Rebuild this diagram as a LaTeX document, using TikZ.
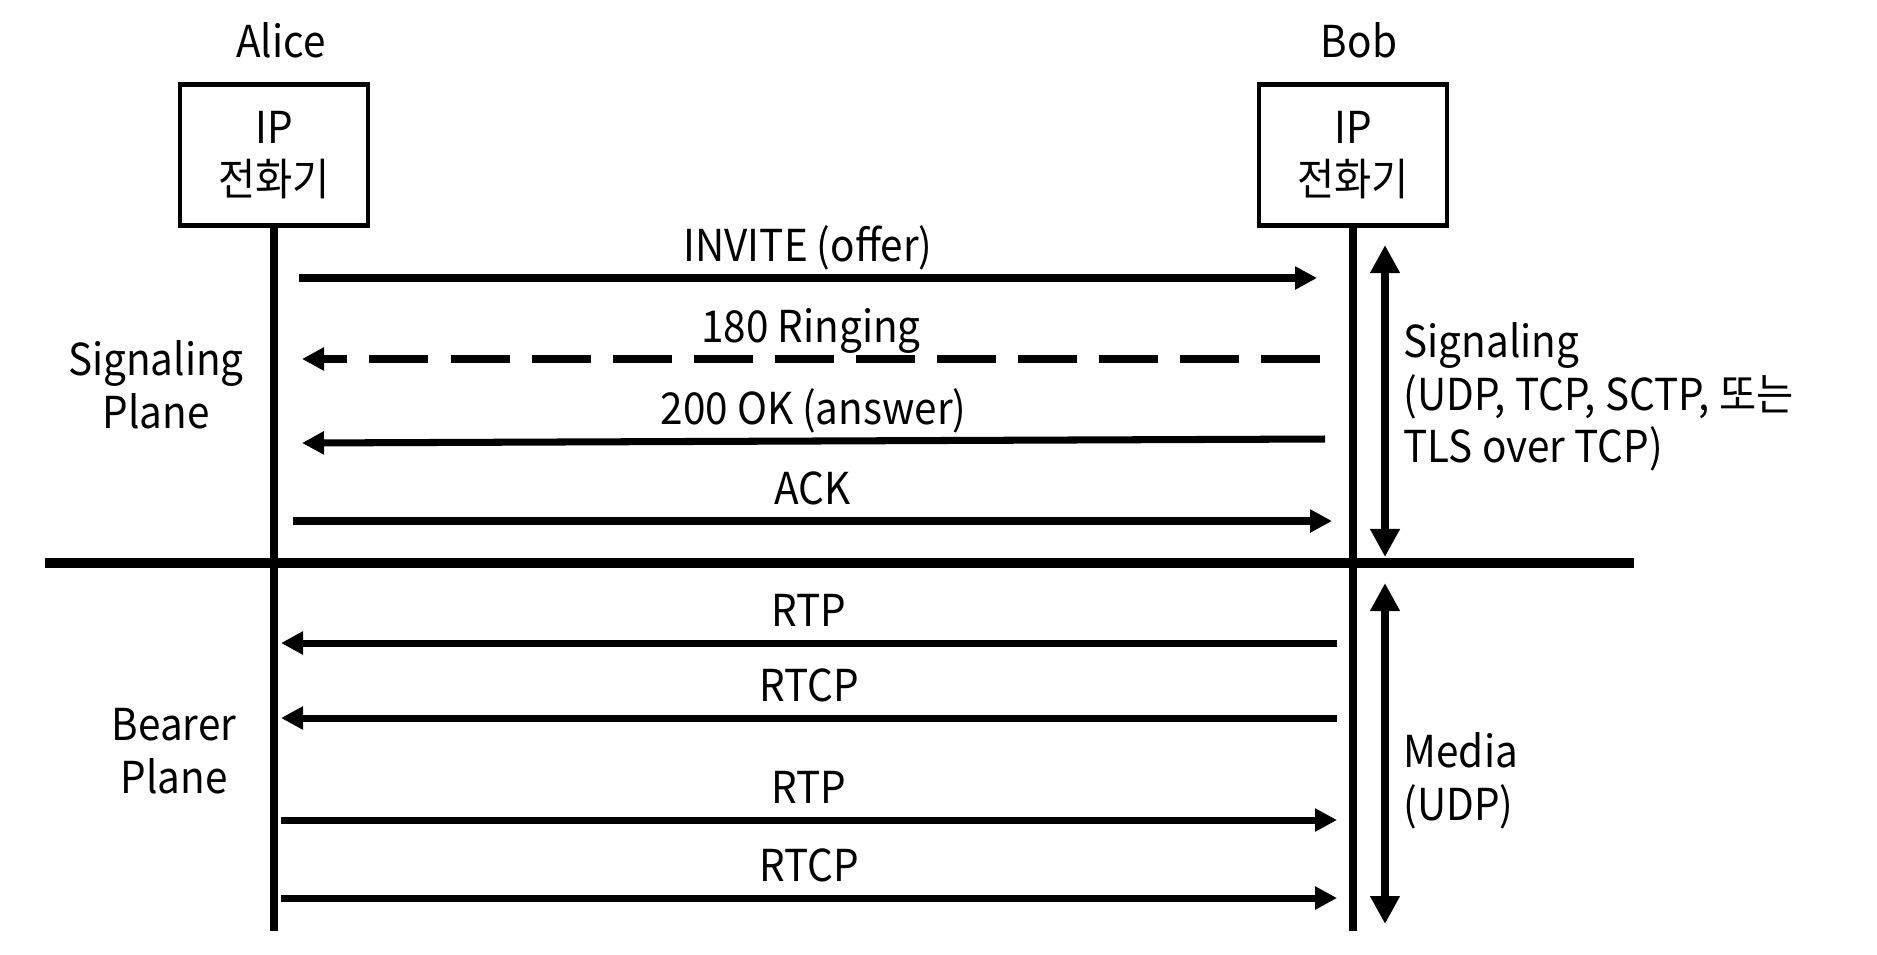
\documentclass[tikz,border=0pt]{standalone}
\usepackage{fontspec}
\setmainfont[FakeStretch=0.92]{Noto Sans CJK KR}
\usetikzlibrary{arrows.meta,positioning}

\begin{document}
\begin{tikzpicture}[x=0.01cm, y=-0.01cm, font=\fontsize{12.5}{15}\selectfont,
  phone/.style={draw, line width=1.2pt, minimum width=1.88cm, minimum height=1.41cm, align=center},
  life/.style={line width=2.5pt},
  msg/.style={line width=2pt, -{Triangle[length=0.22cm,width=0.22cm]}},
  ringdash/.style={dash pattern=on 0.59cm off 0.22cm},
  span/.style={line width=2.2pt, {Triangle[length=0.28cm,width=0.28cm]}-{Triangle[length=0.28cm,width=0.28cm]}},
  lbl/.style={anchor=base, yshift=0.17cm, inner sep=0pt},
  side/.style={align=left, anchor=west, inner sep=0pt}]
  \useasboundingbox (0,0) rectangle (1877,954);

  % endpoints
  \node (alice) at (281,40) {Alice};
  \node (bob) at (1359,40) {Bob};
  \node[phone] (A) at (274,155) {IP\\전화기};
  \node[phone] (B) at (1353,155) {IP\\전화기};
  \coordinate (A-end) at (274,931);
  \coordinate (B-end) at (1353,931);
  \draw[life] (A.south) -- (A-end);
  \draw[life] (B.south) -- (B-end);

  % plane divider
  \coordinate (div-l) at (45,563);
  \coordinate (div-r) at (1634,563);
  \draw[line width=2.6pt] (div-l) -- (div-r);

  % messages
  \coordinate (inv-a) at (299,278);   \coordinate (inv-b) at (1317,278);
  \coordinate (ring-a) at (302,359);  \coordinate (ring-b) at (1320,359);
  \coordinate (ok-a) at (302,443);    \coordinate (ok-b) at (1325,439);
  \coordinate (ack-a) at (293,521);   \coordinate (ack-b) at (1332,521);
  \coordinate (rtp1-a) at (281,643);  \coordinate (rtp1-b) at (1337,643);
  \coordinate (rtcp1-a) at (281,718); \coordinate (rtcp1-b) at (1337,718);
  \coordinate (rtp2-a) at (281,820);  \coordinate (rtp2-b) at (1337,820);
  \coordinate (rtcp2-a) at (281,898); \coordinate (rtcp2-b) at (1337,898);
  \path (inv-a) edge[msg] node[lbl] {INVITE (offer)} (inv-b)
        (ring-b) edge[msg, ringdash] node[lbl] {180 Ringing} (ring-a)
        (ok-b) edge[msg] node[lbl] {200 OK (answer)} (ok-a)
        (ack-a) edge[msg] node[lbl] {ACK} (ack-b)
        (rtp1-b) edge[msg] node[lbl] {RTP} (rtp1-a)
        (rtcp1-b) edge[msg] node[lbl] {RTCP} (rtcp1-a)
        (rtp2-a) edge[msg] node[lbl] {RTP} (rtp2-b)
        (rtcp2-a) edge[msg] node[lbl] {RTCP} (rtcp2-b);

  % transport spans
  \coordinate (sig-t) at (1385,245);   \coordinate (sig-b) at (1385,557);
  \coordinate (med-t) at (1385,583);   \coordinate (med-b) at (1385,924);
  \draw[span] (sig-t) -- (sig-b);
  \draw[span] (med-t) -- (med-b);
  \node[side] (sigtxt) at (1403,397) {Signaling\\(UDP, TCP, SCTP, 또는\\TLS over TCP)};
  \node[side] (medtxt) at (1403,781) {Media\\(UDP)};

  % planes
  \node[align=center] (sigplane) at (156,385) {Signaling\\Plane};
  \node[align=center] (bearplane) at (174,751) {Bearer\\Plane};
\end{tikzpicture}
\end{document}
